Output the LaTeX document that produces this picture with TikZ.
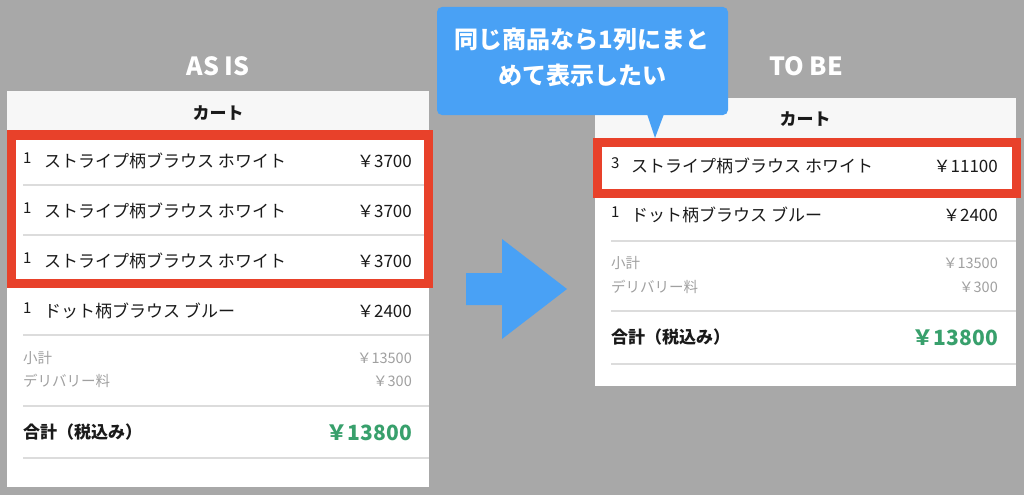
\documentclass[tikz,border=0pt]{standalone}
\usepackage{fontspec}
\setmainfont{Noto Sans CJK JP}
\definecolor{bg}{HTML}{A8A8A8}
\definecolor{hdr}{HTML}{F7F7F7}
\definecolor{redbox}{HTML}{E8412A}
\definecolor{sep}{HTML}{DCDCDC}
\definecolor{sub}{HTML}{A0A0A0}
\definecolor{total}{HTML}{38A06C}
\definecolor{callout}{HTML}{49A1F5}
\definecolor{ink}{HTML}{1A1A1A}
\tikzset{
  panel/.style={fill=white},
  header/.style={fill=hdr},
  sepline/.style={draw=sep, line width=1.5},
  hilite/.style={draw=redbox, line width=9.5},
  ttl/.style={text=white, font=\fontsize{25}{28}\selectfont\bfseries, inner sep=0},
  carttitle/.style={text=ink, font=\fontsize{17}{20}\selectfont\bfseries, inner sep=0},
  qty/.style={anchor=west, text=ink, font=\fontsize{15}{18}\selectfont, inner sep=0},
  item/.style={anchor=west, text=ink, font=\fontsize{17}{20}\selectfont, inner sep=0},
  price/.style={anchor=east, text=ink, font=\fontsize{17}{20}\selectfont, inner sep=0},
  subl/.style={anchor=west, text=sub, font=\fontsize{14.5}{18}\selectfont, inner sep=0},
  subr/.style={anchor=east, text=sub, font=\fontsize{14.5}{18}\selectfont, inner sep=0},
  totl/.style={anchor=west, text=ink, font=\fontsize{17}{20}\selectfont\bfseries, inner sep=0},
  totr/.style={anchor=east, text=total, font=\fontsize{21}{24}\selectfont\bfseries, inner sep=0},
}
\begin{document}
\begin{tikzpicture}[x=1pt,y=-1pt]
\fill[bg] (0,0) rectangle (1024,495);
\useasboundingbox (0,0) rectangle (1024,495);

% ---------- titles ----------
\node[ttl] (asis) at (218,66) {AS IS};
\node[ttl] (tobe) at (806,66) {TO BE};

% ---------- left panel ----------
\fill[panel] (7,91) rectangle (429,487);
\fill[header] (7,91) rectangle (429,131);
\node[carttitle] (lcart) at (218,113) {カート};

\node[qty] (lq1) at (23,158) {1};
\node[item] (li1) at (44,161) {ストライプ柄ブラウス ホワイト};
\node[price] (lp1) at (412,161) {￥3700};
\draw[sepline] (23,185) -- (424,185);
\node[qty] (lq2) at (23,208) {1};
\node[item] (li2) at (44,211) {ストライプ柄ブラウス ホワイト};
\node[price] (lp2) at (412,211) {￥3700};
\draw[sepline] (23,235) -- (424,235);
\node[qty] (lq3) at (23,258) {1};
\node[item] (li3) at (44,261) {ストライプ柄ブラウス ホワイト};
\node[price] (lp3) at (412,261) {￥3700};
\draw[hilite] (11.5,135) rectangle (428.5,283.5);

\node[qty] (lq4) at (23,308) {1};
\node[item] (li4) at (44,311) {ドット柄ブラウス ブルー};
\node[price] (lp4) at (412,311) {￥2400};
\draw[sepline] (23,335) -- (429,335);
\node[subl] (lsub) at (23,358) {小計};
\node[subr] (lsubv) at (412,358) {￥13500};
\node[subl] (ldel) at (23,381) {デリバリー料};
\node[subr] (ldelv) at (412,381) {￥300};
\draw[sepline] (23,406) -- (429,406);
\node[totl] (ltot) at (23,432) {合計（税込み）};
\node[totr] (ltotv) at (412,433) {￥13800};
\draw[sepline] (23,458) -- (429,458);

% ---------- arrow ----------
\fill[callout] (466,273) -- (502,273) -- (502,239) -- (567,289) -- (502,339) -- (502,305) -- (466,305) -- cycle;

% ---------- right panel ----------
\fill[panel] (595,98) rectangle (1016,386);
\fill[header] (595,98) rectangle (1016,138);
\node[carttitle] (rcart) at (805,119) {カート};

\node[qty] (rq1) at (611,163) {3};
\node[item] (ri1) at (631,166) {ストライプ柄ブラウス ホワイト};
\node[price] (rp1) at (998,166) {￥11100};
\draw[hilite] (597.5,142.5) rectangle (1016.5,193.5);

\node[qty] (rq2) at (611,212) {1};
\node[item] (ri2) at (631,215) {ドット柄ブラウス ブルー};
\node[price] (rp2) at (998,215) {￥2400};
\draw[sepline] (611,241) -- (1016,241);
\node[subl] (rsub) at (611,263) {小計};
\node[subr] (rsubv) at (998,263) {￥13500};
\node[subl] (rdel) at (611,287) {デリバリー料};
\node[subr] (rdelv) at (998,287) {￥300};
\draw[sepline] (611,311) -- (1016,311);
\node[totl] (rtot) at (611,337) {合計（税込み）};
\node[totr] (rtotv) at (998,338) {￥13800};
\draw[sepline] (611,364) -- (1016,364);

% ---------- callout ----------
\fill[callout, rounded corners=5] (437,7) rectangle (728,115);
\fill[callout] (647,114) -- (664,114) -- (655,138) -- cycle;
\node[text=white, font=\fontsize{24}{36}\selectfont\bfseries, align=center, inner sep=0] (note) at (582,57) {同じ商品なら1列にまと\\めて表示したい};
\end{tikzpicture}
\end{document}
